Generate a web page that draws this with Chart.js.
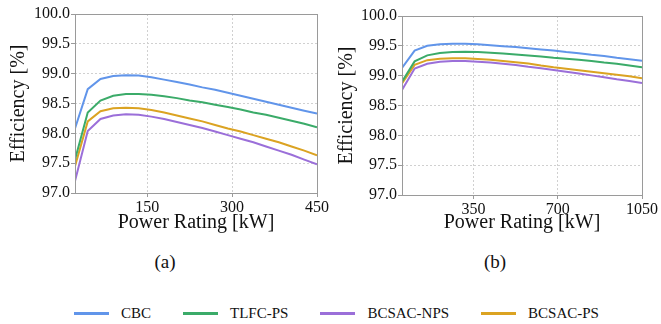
<!DOCTYPE html>
<html>
<head>
<meta charset="utf-8">
<script src="https://cdn.jsdelivr.net/npm/chart.js@4.4.1/dist/chart.umd.min.js"></script>
<style>
  body { margin: 0; background: #fff; width: 661px; height: 324px; position: relative; overflow: hidden;
         font-family: "Liberation Serif", "Times New Roman", serif; color: #111; }
  .box { position: absolute; top: 0; }
  .cap { position: absolute; top: 251px; font-size: 19px; width: 60px; text-align: center; }
  #legend { position: absolute; left: 0; width: 661px; top: 303px; display: flex; justify-content: center;
            font-size: 15px; line-height: 20px; padding-left: 12px; box-sizing: border-box; }
  .item { display: flex; align-items: center; margin-right: 32px; }
  .item:last-child { margin-right: 0; }
  .swatch { width: 35px; height: 3px; margin-right: 12px; }
</style>
</head>
<body>
<div class="box" style="left:0"><canvas id="chartA" width="330" height="250"></canvas></div>
<div class="box" style="left:330px"><canvas id="chartB" width="331" height="250"></canvas></div>
<div class="cap" style="left:135px">(a)</div>
<div class="cap" style="left:465px">(b)</div>
<div id="legend"></div>
<script>
// series
let seriesNames = ["CBC", "TLFC-PS", "BCSAC-NPS", "BCSAC-PS"];
let seriesColors = ["#6195ea", "#3bab69", "#9b6fd9", "#dba322"];

// (a) power ratings [kW] and efficiencies [%]
let powerA = [22.5, 45, 67.5, 90, 112.5, 135, 157.5, 180, 202.5, 225,
              247.5, 270, 292.5, 315, 337.5, 360, 382.5, 405, 427.5, 450];
let cbcA  = [98.08, 98.74, 98.91, 98.96, 98.975, 98.97, 98.94, 98.90, 98.86, 98.82,
             98.77, 98.73, 98.68, 98.63, 98.58, 98.53, 98.48, 98.43, 98.38, 98.33];
let tlfcA = [97.56, 98.35, 98.55, 98.63, 98.66, 98.66, 98.645, 98.62, 98.59, 98.55,
             98.52, 98.48, 98.44, 98.40, 98.35, 98.31, 98.26, 98.21, 98.16, 98.10];
let npsA  = [97.20, 98.04, 98.24, 98.30, 98.32, 98.31, 98.28, 98.24, 98.19, 98.14,
             98.09, 98.03, 97.97, 97.91, 97.85, 97.78, 97.71, 97.64, 97.56, 97.48];
let psA   = [97.45, 98.20, 98.37, 98.42, 98.43, 98.42, 98.39, 98.35, 98.30, 98.25,
             98.20, 98.14, 98.08, 98.03, 97.97, 97.91, 97.85, 97.78, 97.71, 97.63];
let xTicksA = [150, 300, 450];

// (b)
let powerB = [52.5, 105, 157.5, 210, 262.5, 315, 367.5, 420, 472.5, 525,
              577.5, 630, 682.5, 735, 787.5, 840, 892.5, 945, 997.5, 1050];
let cbcB  = [99.13, 99.42, 99.50, 99.525, 99.535, 99.535, 99.525, 99.51, 99.495, 99.48,
             99.46, 99.44, 99.42, 99.395, 99.375, 99.35, 99.33, 99.30, 99.275, 99.25];
let tlfcB = [98.90, 99.24, 99.34, 99.38, 99.395, 99.40, 99.395, 99.385, 99.37, 99.355,
             99.34, 99.32, 99.30, 99.285, 99.265, 99.245, 99.22, 99.20, 99.17, 99.14];
let npsB  = [98.76, 99.12, 99.20, 99.235, 99.245, 99.245, 99.235, 99.22, 99.20, 99.18,
             99.15, 99.125, 99.095, 99.065, 99.035, 99.005, 98.975, 98.94, 98.91, 98.875];
let psB   = [98.87, 99.18, 99.26, 99.285, 99.29, 99.29, 99.28, 99.265, 99.245, 99.225,
             99.205, 99.17, 99.14, 99.115, 99.09, 99.065, 99.04, 99.015, 98.99, 98.955];
let xTicksB = [350, 700, 1050];

let yMin = 97.0, yMax = 100.0, yStep = 0.5;

let serif = "'Liberation Serif', 'Times New Roman', serif";
let gridGray = "#d0d0d0";
let frameGray = "#9a9a9a";

// draw the box round the plot like matplotlib
let framePlugin = {
  id: "frame",
  afterDraw(chart) {
    let a = chart.chartArea, c = chart.ctx;
    c.save();
    c.strokeStyle = frameGray;
    c.lineWidth = 1;
    c.strokeRect(Math.round(a.left) + 0.5, Math.round(a.top) + 0.5,
                 Math.round(a.right - a.left), Math.round(a.bottom - a.top));
    c.restore();
  }
};

function makeChart(id, xs, ys, xTicks, area, canvasW) {
  let datasets = ys.map((vals, i) => ({
    label: seriesNames[i],
    data: vals.map((v, j) => ({ x: xs[j], y: v })),
    borderColor: seriesColors[i],
    borderWidth: 2,
    pointRadius: 0,
    tension: 0,
    fill: false
  }));
  return new Chart(document.getElementById(id), {
    type: "line",
    data: { datasets: datasets },
    options: {
      responsive: false,
      animation: false,
      devicePixelRatio: 1,
      layout: { padding: { top: area.top, right: canvasW - area.right, left: 0, bottom: 0 } },
      plugins: { legend: { display: false }, tooltip: { enabled: false } },
      scales: {
        x: {
          type: "linear",
          min: xs[0],
          max: xs[xs.length - 1],
          afterBuildTicks: s => { s.ticks = xTicks.map(v => ({ value: v })); },
          afterFit: s => { s.height = 250 - area.bottom; },
          grid: { color: gridGray, tickColor: frameGray, tickLength: 4 },
          border: { display: false, dash: [2, 2] },
          ticks: { color: "#111", padding: 1, maxRotation: 0, font: { family: serif, size: 16 },
                   callback: v => String(v) },
          title: { display: true, text: "Power Rating [kW]", color: "#111",
                   font: { family: serif, size: 20 }, padding: { top: 0, bottom: 15 } }
        },
        y: {
          min: yMin,
          max: yMax,
          afterFit: s => { s.width = area.left; },
          grid: { color: gridGray, tickColor: frameGray, tickLength: 4 },
          border: { display: false, dash: [2, 2] },
          ticks: { stepSize: yStep, color: "#111", padding: 1, font: { family: serif, size: 16 },
                   callback: v => v.toFixed(1) },
          title: { display: true, text: "Efficiency [%]", color: "#111",
                   font: { family: serif, size: 20 }, padding: { top: area.titlePad, bottom: 0 } }
        }
      }
    },
    plugins: [framePlugin]
  });
}

let chartA = makeChart("chartA", powerA, [cbcA, tlfcA, npsA, psA], xTicksA,
  { left: 75, right: 318, top: 14, bottom: 193, titlePad: 7 }, 330);
let chartB = makeChart("chartB", powerB, [cbcB, tlfcB, npsB, psB], xTicksB,
  { left: 72, right: 312, top: 16, bottom: 195, titlePad: 5 }, 331);

// legend under both plots
let legend = document.getElementById("legend");
seriesNames.forEach((name, i) => {
  let item = document.createElement("div");
  item.className = "item";
  let sw = document.createElement("div");
  sw.className = "swatch";
  sw.style.background = seriesColors[i];
  let txt = document.createElement("span");
  txt.textContent = name;
  item.appendChild(sw);
  item.appendChild(txt);
  legend.appendChild(item);
});
</script>
</body>
</html>
